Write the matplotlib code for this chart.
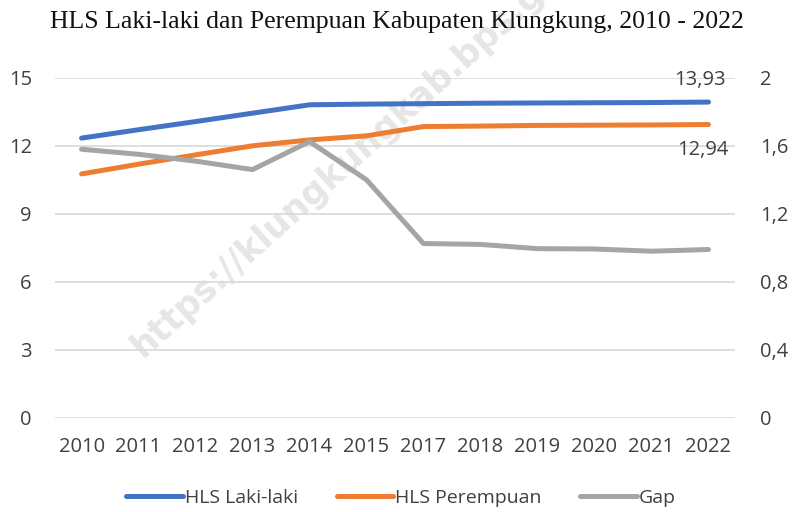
import matplotlib.pyplot as plt
from matplotlib.ticker import FuncFormatter

years = ['2010', '2011', '2012', '2013', '2014', '2015',
         '2017', '2018', '2019', '2020', '2021', '2022']
hls_laki = [12.34, 12.71, 13.07, 13.44, 13.81, 13.84, 13.86, 13.88, 13.89, 13.90, 13.91, 13.93]
hls_perempuan = [10.76, 11.19, 11.60, 12.00, 12.26, 12.44, 12.85, 12.87, 12.90, 12.91, 12.92, 12.94]
gap = [1.58, 1.55, 1.51, 1.46, 1.625, 1.40, 1.025, 1.02, 0.995, 0.993, 0.98, 0.99]

left_ticks = [0, 3, 6, 9, 12, 15]
right_ticks = [0, 0.4, 0.8, 1.2, 1.6, 2.0]

blue = '#4472C4'
orange = '#ED7D31'
grey = '#A5A5A5'
txt = '#404040'

plt.rcParams['font.family'] = ['Open Sans', 'DejaVu Sans']

fig = plt.figure(figsize=(7.94, 5.12), dpi=100)
ax = fig.add_axes([0.069, 0.184, 0.857, 0.664])
ax2 = ax.twinx()
ax.set_facecolor('none')
ax2.set_facecolor('none')

x = list(range(len(years)))
l1, = ax.plot(x, hls_laki, color=blue, lw=3.6, solid_capstyle='round', solid_joinstyle='round', label='HLS Laki-laki')
l2, = ax.plot(x, hls_perempuan, color=orange, lw=3.6, solid_capstyle='round', solid_joinstyle='round', label='HLS Perempuan')
l3, = ax2.plot(x, gap, color=grey, lw=3.6, solid_capstyle='round', solid_joinstyle='round', label='Gap')

ax.set_ylim(0, 15)
ax2.set_ylim(0, 2)
ax.set_xlim(-0.47, len(years) - 0.53)
ax.set_yticks(left_ticks)
ax2.set_yticks(right_ticks)
ax2.yaxis.set_major_formatter(FuncFormatter(lambda v, p: ('%g' % round(v, 1)).replace('.', ',')))
ax.set_xticks(x)
ax.set_xticklabels(years)

ax.grid(axis='y', color='#D9D9D9', lw=1.2)
ax.set_axisbelow(True)
for a in (ax, ax2):
    for s in a.spines.values():
        s.set_visible(False)
    a.tick_params(length=0, labelsize=14.5, colors=txt)
ax.tick_params(axis='x', pad=14)
ax.tick_params(axis='y', pad=16.5)
ax2.tick_params(axis='y', pad=18)

# data labels at the last point
ax.annotate('13,93', (x[-1], hls_laki[-1]), xytext=(-6, 16), textcoords='offset points',
            ha='center', va='center', fontsize=14.5, color=txt)
ax.annotate('12,94', (x[-1], hls_perempuan[-1]), xytext=(-4, -18), textcoords='offset points',
            ha='center', va='center', fontsize=14.5, color=txt)

fig.text(0.5, 0.957, 'HLS Laki-laki dan Perempuan Kabupaten Klungkung, 2010 - 2022',
         ha='center', va='center', fontsize=18.5, family='Liberation Serif', color='#111111')

fig.legend(handles=[l1, l2, l3], loc='center', bbox_to_anchor=(0.505, 0.028), ncol=3,
           frameon=False, fontsize=14, handlelength=2.9, handletextpad=0.1, columnspacing=2.0,
           labelcolor=txt)

# watermark
fig.text(0.179, 0.30, 'https://klungkungkab.bps.go.id', rotation=42, rotation_mode='anchor',
         ha='left', va='baseline', fontsize=25, fontweight='bold', color='#E6E6E6',
         family='DejaVu Sans', zorder=-1)

fig.savefig('out.png', dpi=100)
